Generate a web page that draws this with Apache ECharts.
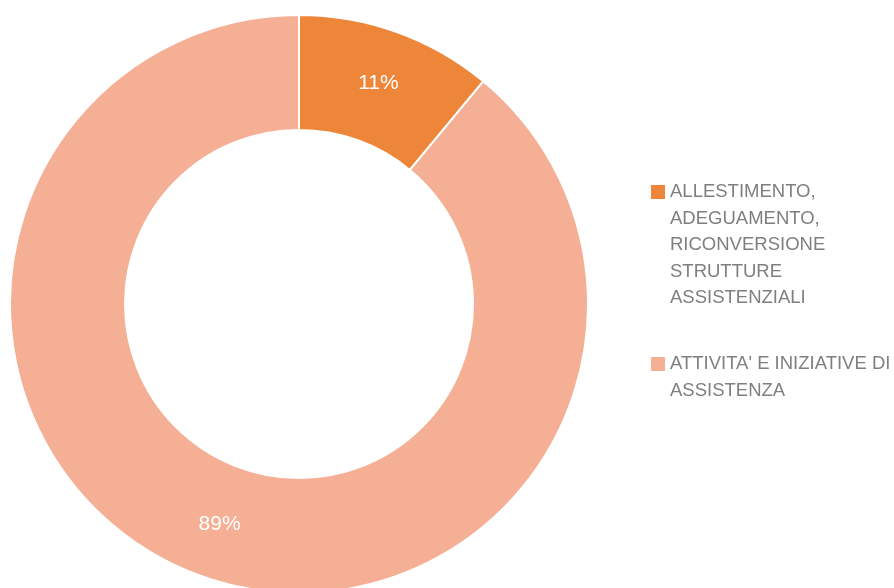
<!DOCTYPE html>
<html>
<head>
<meta charset="utf-8">
<script src="https://cdn.jsdelivr.net/npm/echarts@6/dist/echarts.min.js"></script>
<style>
html, body { margin: 0; padding: 0; background: #fff; }
#main { width: 894px; height: 588px; }
</style>
</head>
<body>
<div id="main"></div>
<script>
var categories = ['ALLESTIMENTO, ADEGUAMENTO, RICONVERSIONE STRUTTURE ASSISTENZIALI', "ATTIVITA' E INIZIATIVE DI ASSISTENZA"];
// testo della legenda con gli a capo come nel riferimento
var legendLabels = ['ALLESTIMENTO,\nADEGUAMENTO,\nRICONVERSIONE\nSTRUTTURE\nASSISTENZIALI', "ATTIVITA' E INIZIATIVE DI\nASSISTENZA"];
var values = [11, 89];
var colors = ['#EE863A', '#F4AF94'];

var lineH = 26.5;

function nLines(i) {
    return legendLabels[i].split('\n').length;
}

function makeLegend(i, iconTop) {
    var n = nLines(i);
    return {
        orient: 'vertical',
        left: 651,
        // testo centrato sul quadratino: righe vuote sopra, quindi il blocco sale
        top: iconTop - ((2 * n - 1) * lineH / 2 - 7),
        padding: 0,
        itemWidth: 14,
        itemHeight: 14,
        itemGap: 0,
        icon: 'rect',
        selectedMode: false,
        itemStyle: { borderWidth: 0 },
        data: [categories[i]],
        formatter: function (name) {
            var k = categories.indexOf(name);
            return new Array(nLines(k)).join('\n') + legendLabels[k];
        },
        textStyle: {
            color: '#7f7f7f',
            fontSize: 18.5,
            fontFamily: '"Liberation Sans", Arial, sans-serif',
            lineHeight: lineH
        }
    };
}

var myChart = echarts.init(document.getElementById('main'));
var option = {
    animation: false,
    color: colors,
    legend: [makeLegend(0, 185), makeLegend(1, 357)],
    series: [{
        type: 'pie',
        center: [299, 304],
        radius: [174, 289],
        startAngle: 90,
        clockwise: true,
        avoidLabelOverlap: false,
        itemStyle: {
            borderColor: '#fff',
            borderWidth: 2
        },
        label: {
            show: true,
            position: 'inside',
            formatter: '{c}%',
            color: '#fff',
            fontSize: 21,
            fontFamily: '"Liberation Sans", Arial, sans-serif'
        },
        labelLine: { show: false },
        emphasis: { disabled: true },
        data: categories.map(function (c, i) {
            return { name: c, value: values[i] };
        })
    }]
};
myChart.setOption(option);
</script>
</body>
</html>
